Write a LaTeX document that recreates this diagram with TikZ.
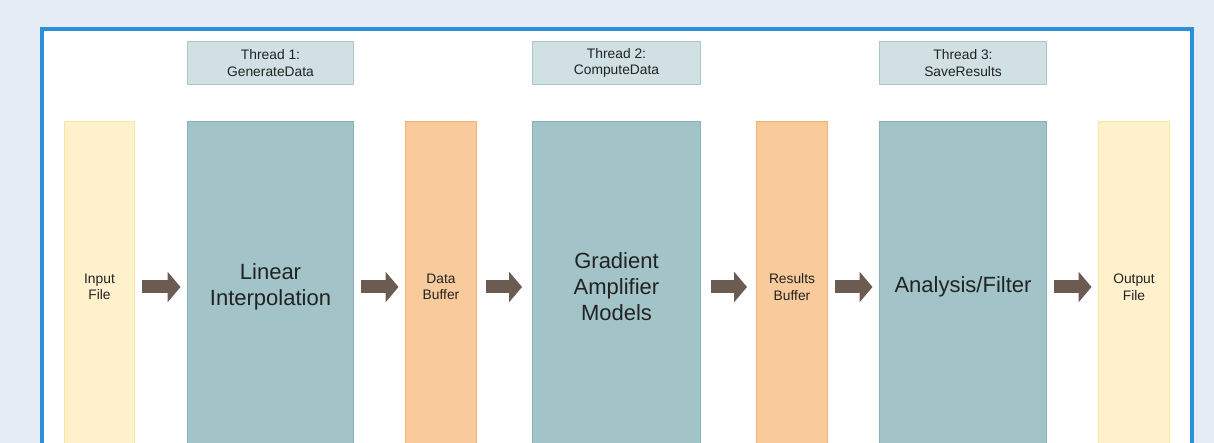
\documentclass[tikz,border=0pt]{standalone}
\usepackage{fontspec}
\setmainfont{Liberation Sans}
\usepackage{tikz}
\usetikzlibrary{arrows.meta}

\definecolor{pagebg}{HTML}{E5ECF6}
\definecolor{framecol}{HTML}{2B8FD9}
\definecolor{threadfill}{HTML}{D0E0E3}
\definecolor{threaddraw}{HTML}{A9C8CD}
\definecolor{tealfill}{HTML}{A2C4C9}
\definecolor{tealdraw}{HTML}{88B1B7}
\definecolor{bufffill}{HTML}{F9CB9C}
\definecolor{buffdraw}{HTML}{F6B26B}
\definecolor{filefill}{HTML}{FFF1CC}
\definecolor{filedraw}{HTML}{FFE59C}
\definecolor{arrowcol}{HTML}{6B5B50}
\definecolor{txtcol}{HTML}{222222}

\tikzset{
  threadbox/.style={draw=threaddraw, fill=threadfill, line width=1pt, inner sep=0pt,
    minimum height=43pt, align=center, text=txtcol,
    font=\fontsize{13.8}{16.5}\selectfont},
  column/.style={line width=1pt, inner sep=0pt, minimum height=330pt, align=center, text=txtcol},
  stage/.style={column, draw=tealdraw, fill=tealfill, font=\fontsize{22}{26}\selectfont},
  buffer/.style={column, draw=buffdraw, fill=bufffill, font=\fontsize{13.8}{16.5}\selectfont},
  datafile/.style={column, draw=filedraw, fill=filefill, font=\fontsize{13.8}{16.5}\selectfont},
  fat/.style={arrowcol, line width=13pt, -{Triangle[width=30pt,length=13pt]}},
}

\begin{document}
\begin{tikzpicture}[x=1pt, y=-1pt]
	\fill[pagebg] (0, 0) rectangle (1214, 443);
	\useasboundingbox (0, 0) rectangle (1214, 443);
	\clip (0, 0) rectangle (1214, 443);
	\draw[framecol, line width=4pt, fill=white] (42, 500) -- (42, 29) -- (1192, 29) -- (1192, 500);
	%%
	\node[threadbox, minimum width=166pt] (t1) at (270.5, 63) {Thread 1:\\GenerateData};
	\node[threadbox, minimum width=168pt] (t2) at (616.5, 63) {Thread 2:\\ComputeData};
	\node[threadbox, minimum width=167pt] (t3) at (963, 63) {Thread 3:\\SaveResults};
	%%
	\node[datafile, minimum width=70pt] (infile) at (99.5, 287) {Input\\File};
	\node[stage, minimum width=166pt] (interp) at (270.5, 287) {Linear\\Interpolation};
	\node[buffer, minimum width=71pt] (databuf) at (441, 287) {Data\\Buffer};
	\node[stage, minimum width=168pt] (grad) at (616.5, 287) {Gradient\\Amplifier\\Models};
	\node[buffer, minimum width=71pt] (resbuf) at (792, 287) {Results\\Buffer};
	\node[stage, minimum width=167pt] (filter) at (963, 287) {Analysis/Filter};
	\node[datafile, minimum width=71pt] (outfile) at (1134, 287) {Output\\File};
	%%
	\draw[fat, shorten <=6.5pt, shorten >=6.5pt] (infile.east) -- (interp.west);
	\draw[fat, shorten <=6.5pt, shorten >=6.5pt] (interp.east) -- (databuf.west);
	\draw[fat, shorten <=9pt, shorten >=10pt] (databuf.east) -- (grad.west);
	\draw[fat, shorten <=10pt, shorten >=9pt] (grad.east) -- (resbuf.west);
	\draw[fat, shorten <=6.5pt, shorten >=6.5pt] (resbuf.east) -- (filter.west);
	\draw[fat, shorten <=6.5pt, shorten >=6.5pt] (filter.east) -- (outfile.west);
\end{tikzpicture}
\end{document}
